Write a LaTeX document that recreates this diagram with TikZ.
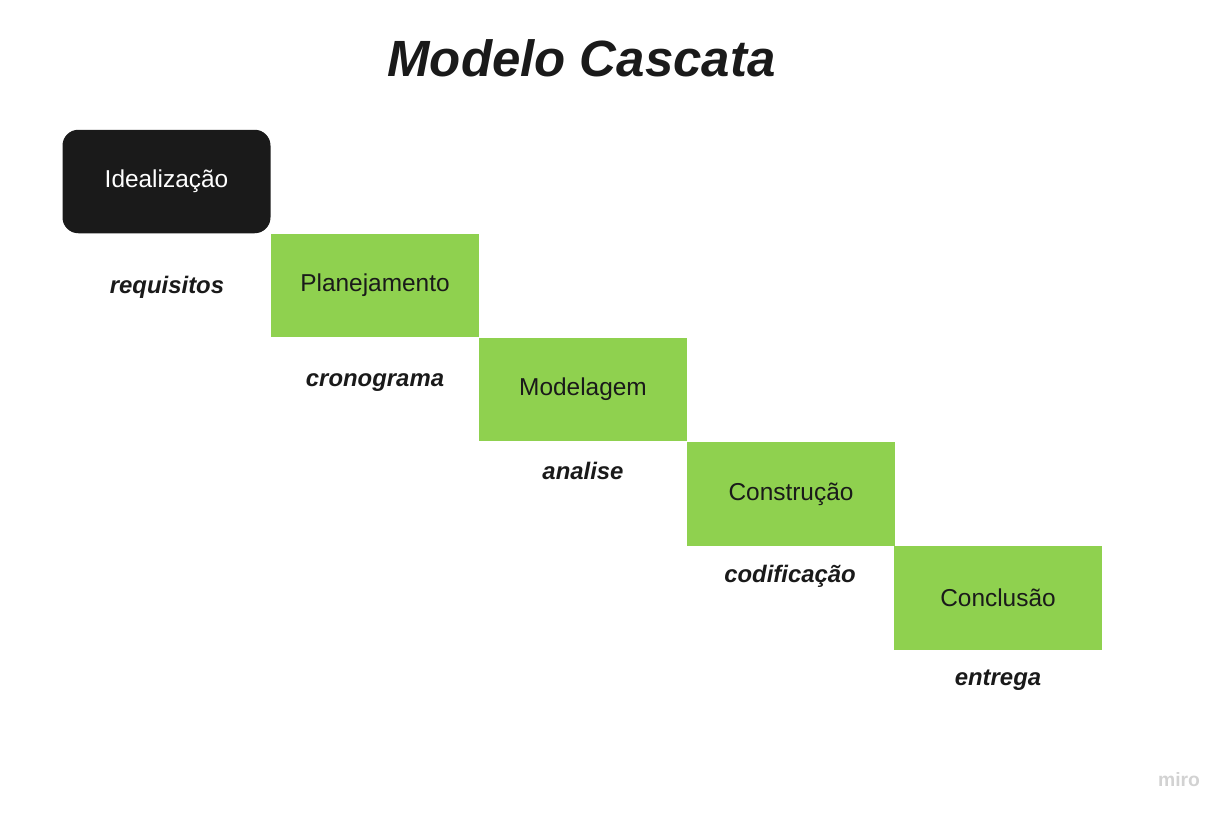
\documentclass[tikz,border=0pt]{standalone}
\usepackage{fontspec}
\setmainfont{Liberation Sans}
\usetikzlibrary{positioning}
\definecolor{fase}{HTML}{8FD14F}
\definecolor{escuro}{HTML}{1A1A1A}

\begin{document}
\begin{tikzpicture}[
  etapa/.style={fill=fase, minimum width=4.16cm, minimum height=2.07cm, inner sep=0pt, text=escuro, font=\fontsize{13.9}{16}\selectfont},
  inicio/.style={etapa, fill=escuro, rounded corners=9pt, text=white},
  saida/.style={text=escuro, font=\fontsize{13.6}{16}\selectfont\bfseries\itshape, inner sep=1pt}]
\useasboundingbox (0,0) rectangle (24.54,-16.28);
% titulo
\node[text=escuro, font=\fontsize{29}{34}\selectfont\bfseries\itshape] (titulo) at (11.63,-1.16) {Modelo Cascata};
% as fases
\node[inicio] (ideal) at (3.33,-3.63) {Idealização};
\node[etapa] (plan) at (7.50,-5.71) {Planejamento};
\node[etapa] (model) at (11.66,-7.79) {Modelagem};
\node[etapa] (constr) at (15.82,-9.88) {Construção};
\node[etapa] (concl) at (19.96,-11.96) {Conclusão};
% o que sai de cada fase
\node[saida] (req) at (3.34,-5.75) {requisitos};
\node[saida] (crono) at (7.50,-7.66) {cronograma};
\node[saida] (anal) at (11.66,-9.42) {analise};
\node[saida] (codif) at (15.80,-11.52) {codificação};
\node[saida] (entr) at (19.96,-13.60) {entrega};
% marca
\node[text=gray!35, font=\fontsize{11}{13}\selectfont\bfseries] (marca) at (23.58,-15.6) {miro};
\end{tikzpicture}
\end{document}
